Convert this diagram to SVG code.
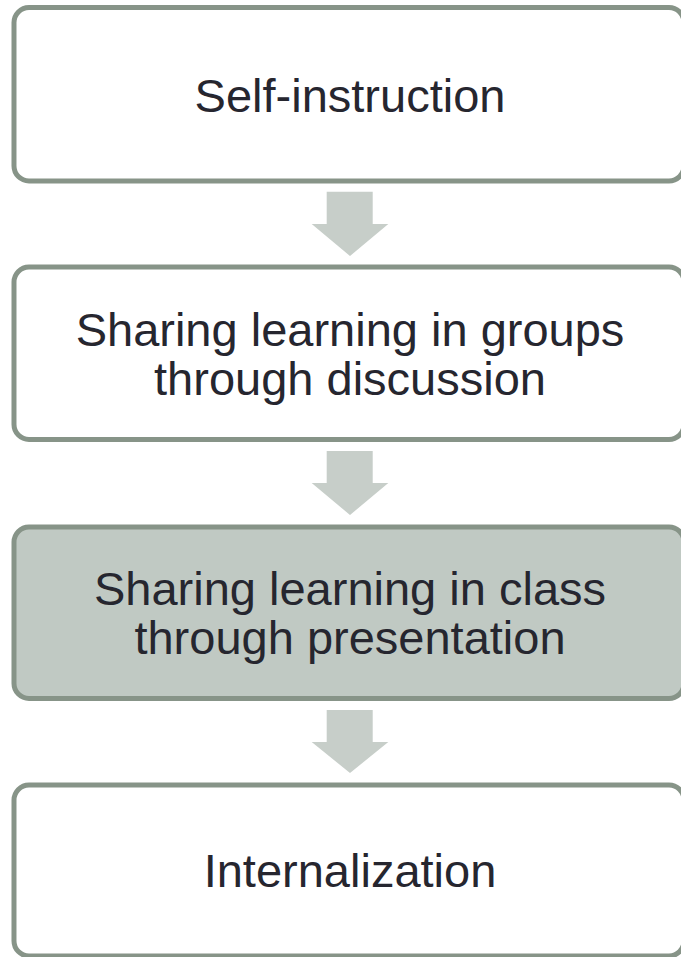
<svg xmlns="http://www.w3.org/2000/svg" width="681" height="957" viewBox="0 0 681 957">
<style>
.box{fill:#ffffff;stroke:#879488;stroke-width:5}
.hl{fill:#c0c9c3}
.lbl{font-family:"Liberation Sans",Arial,sans-serif;font-size:47px;fill:#26262f;text-anchor:middle}
.arr{fill:#c7cec9}
</style>
<rect width="681" height="957" fill="#ffffff"/>
<g id="connectors">
<polygon class="arr" points="326.7,191.7 372.7,191.7 372.7,224 388.3,224 350,256 311.7,224 326.7,224"/>
<polygon class="arr" points="326.7,451 372.7,451 372.7,483 388.3,483 350,515 311.7,483 326.7,483"/>
<polygon class="arr" points="326.7,710 372.7,710 372.7,742 388.3,742 350,773 311.7,742 326.7,742"/>
</g>
<g id="node1">
<rect class="box" x="14" y="7.5" width="670" height="173.5" rx="15"/>
<text class="lbl" x="350" y="112">Self-instruction</text>
</g>
<g id="node2">
<rect class="box" x="14" y="267" width="670" height="172.5" rx="15"/>
<text class="lbl" x="350" y="346">Sharing learning in groups</text>
<text class="lbl" x="350" y="395">through discussion</text>
</g>
<g id="node3">
<rect class="box hl" x="14" y="527" width="670" height="171.5" rx="15"/>
<text class="lbl" x="350" y="605">Sharing learning in class</text>
<text class="lbl" x="350" y="654">through presentation</text>
</g>
<g id="node4">
<rect class="box" x="14" y="785" width="670" height="171" rx="15"/>
<text class="lbl" x="350" y="887">Internalization</text>
</g>
</svg>
